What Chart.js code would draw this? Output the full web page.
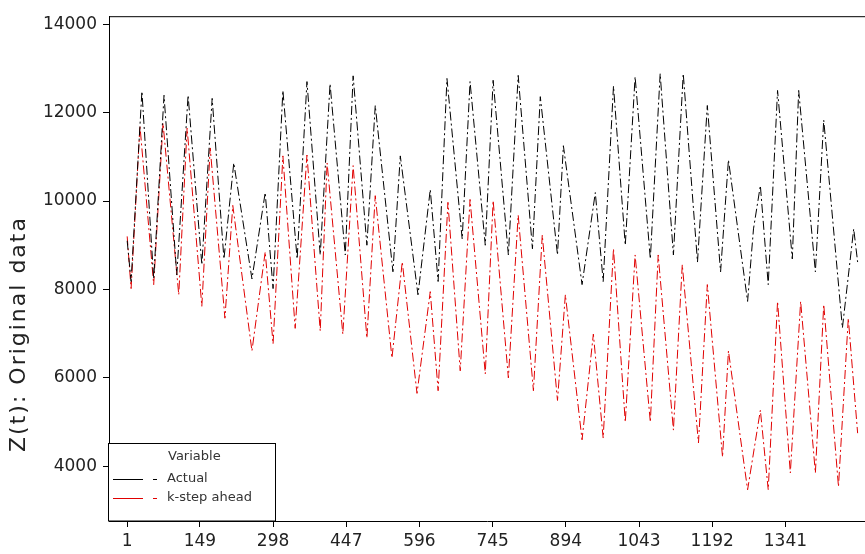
<!DOCTYPE html>
<html>
<head>
<meta charset="utf-8">
<script src="https://cdn.jsdelivr.net/npm/chart.js@4.4.1/dist/chart.umd.min.js"></script>
<style>
    html, body { margin: 0; padding: 0; background: #fff; }
    #wrap { width: 865px; height: 554px; }
</style>
</head>
<body>
<div id="wrap"><canvas id="chart" width="865" height="554"></canvas></div>
<script>
const xTicks = [1, 149, 298, 447, 596, 745, 894, 1043, 1192, 1341];
const yTicks = [4000, 6000, 8000, 10000, 12000, 14000];

// Actual: day peaks and troughs (index, value)
const actualIdx = [1, 9, 31, 55, 76, 102, 125, 153, 174, 198, 218, 255, 282, 298, 318, 347, 367, 394, 414, 445,
    461, 489, 506, 542, 557, 593, 618, 634, 652, 683, 699, 730, 746, 777, 797, 826, 842, 877, 889, 927,
    954, 970, 991, 1015, 1035, 1066, 1086, 1113, 1133, 1162, 1182, 1209, 1225, 1264, 1276, 1290, 1306, 1325, 1355, 1368,
    1402, 1419, 1457, 1480, 1488];
const actual = [9100, 8180, 12480, 8240, 12390, 8330, 12390, 8560, 12320, 8690, 10860, 8240, 10190, 8020, 12500, 8690, 12700, 8780, 12650, 8780,
    12830, 9000, 12160, 8400, 11020, 7880, 10260, 8180, 12770, 9140, 12700, 9000, 12730, 8780, 12840, 8920, 12360, 8780, 11250, 8110,
    10190, 8180, 12600, 9000, 12810, 8690, 12880, 8780, 12880, 8620, 12160, 8400, 10930, 7730, 9370, 10350, 8110, 12500, 8690, 12500,
    8400, 11830, 7130, 9370, 8620];

// k-step ahead forecast
const kStepIdx = [1, 9, 27, 55, 74, 106, 123, 153, 170, 200, 216, 255, 282, 298, 318, 343, 367, 394, 408, 440,
    461, 489, 506, 540, 561, 591, 618, 634, 654, 679, 699, 730, 746, 777, 797, 828, 846, 877, 893, 927,
    950, 970, 991, 1015, 1035, 1066, 1082, 1113, 1131, 1164, 1182, 1213, 1225, 1264, 1290, 1306, 1325, 1351, 1372, 1402,
    1419, 1449, 1469, 1488];
const kStep = [9200, 8020, 11700, 8110, 11760, 7880, 11650, 7620, 11200, 7350, 9900, 6610, 8850, 6770, 11020, 7120, 11040, 7060, 10860, 6990,
    10800, 6900, 10120, 6450, 8625, 5650, 7950, 5710, 9970, 6160, 10035, 6090, 10010, 6000, 9680, 5710, 9230, 5490, 7880, 4600,
    6990, 4640, 8920, 5000, 8780, 5000, 8780, 4820, 8560, 4530, 8110, 4210, 6610, 3470, 5270, 3470, 7730, 3850, 7730, 3850,
    7660, 3540, 7350, 4750];

const seriesNames = ['Actual', 'k-step ahead'];
const seriesColors = ['#000000', '#e00000'];
const dashPattern = [9, 3, 2, 3];
const tickFont = { family: 'DejaVu Sans', size: 17 };

function toPoints(idx, vals) {
    return idx.map((x, i) => ({ x: x, y: vals[i] }));
}

// box on top, legend box and the rotated axis title
const framePlugin = {
    id: 'frame',
    afterDatasetsDraw(chart) {
        const ctx = chart.ctx;
        const a = chart.chartArea;
        ctx.save();
        ctx.strokeStyle = '#000';
        ctx.lineWidth = 1;
        ctx.beginPath();
        ctx.moveTo(a.left, a.top + 0.5);
        ctx.lineTo(a.right, a.top + 0.5);
        ctx.stroke();

        // legend
        const lx = 108.5, ly = 443.5, lw = 167, lh = a.bottom - 443.5;
        ctx.fillStyle = '#fff';
        ctx.fillRect(lx, ly, lw, lh);
        ctx.strokeRect(lx, ly, lw, lh);
        ctx.font = '13px "DejaVu Sans"';
        ctx.fillStyle = '#333';
        ctx.textBaseline = 'middle';
        ctx.fillText('Variable', 168, 457);
        [479, 498].forEach((y, i) => {
            ctx.strokeStyle = seriesColors[i];
            ctx.beginPath();
            ctx.moveTo(113, y + 0.5);
            ctx.lineTo(143, y + 0.5);
            ctx.moveTo(153, y + 0.5);
            ctx.lineTo(157, y + 0.5);
            ctx.stroke();
            ctx.fillStyle = '#333';
            ctx.fillText(seriesNames[i], 167, y);
        });

        // y title
        ctx.translate(19, 334);
        ctx.rotate(-Math.PI / 2);
        ctx.font = '22px "DejaVu Sans"';
        ctx.letterSpacing = '2px';
        ctx.textAlign = 'center';
        ctx.fillStyle = '#222';
        ctx.fillText('Z(t): Original data', 0, 0);
        ctx.restore();
    }
};

new Chart(document.getElementById('chart'), {
    type: 'line',
    data: {
        datasets: [
            {
                label: seriesNames[0],
                data: toPoints(actualIdx, actual),
                borderColor: seriesColors[0],
                borderWidth: 1,
                borderDash: dashPattern,
                pointRadius: 0,
                tension: 0
            },
            {
                label: seriesNames[1],
                data: toPoints(kStepIdx, kStep),
                borderColor: seriesColors[1],
                borderWidth: 1,
                borderDash: dashPattern,
                pointRadius: 0,
                tension: 0
            }
        ]
    },
    options: {
        responsive: false,
        animation: false,
        devicePixelRatio: 1,
        layout: { padding: { top: 12, right: 0, left: 0, bottom: 0 } },
        plugins: {
            legend: { display: false },
            tooltip: { enabled: false }
        },
        scales: {
            x: {
                type: 'linear',
                min: -36,
                max: 1503,
                afterFit: s => { s.height = 33; },
                afterBuildTicks: s => { s.ticks = xTicks.map(v => ({ value: v })); },
                grid: { drawOnChartArea: false, tickLength: 6, color: '#000' },
                border: { color: '#000', width: 1 },
                ticks: { font: tickFont, color: '#222', padding: 4, maxRotation: 0, autoSkip: false, callback: v => String(v) }
            },
            y: {
                min: 2764,
                max: 14179,
                afterFit: s => { s.width = 109; },
                afterBuildTicks: s => { s.ticks = yTicks.map(v => ({ value: v })); },
                grid: { drawOnChartArea: false, tickLength: 6, color: '#000' },
                border: { color: '#000', width: 1 },
                ticks: { font: tickFont, color: '#222', padding: 6, callback: v => String(v) }
            }
        }
    },
    plugins: [framePlugin]
});
</script>
</body>
</html>
